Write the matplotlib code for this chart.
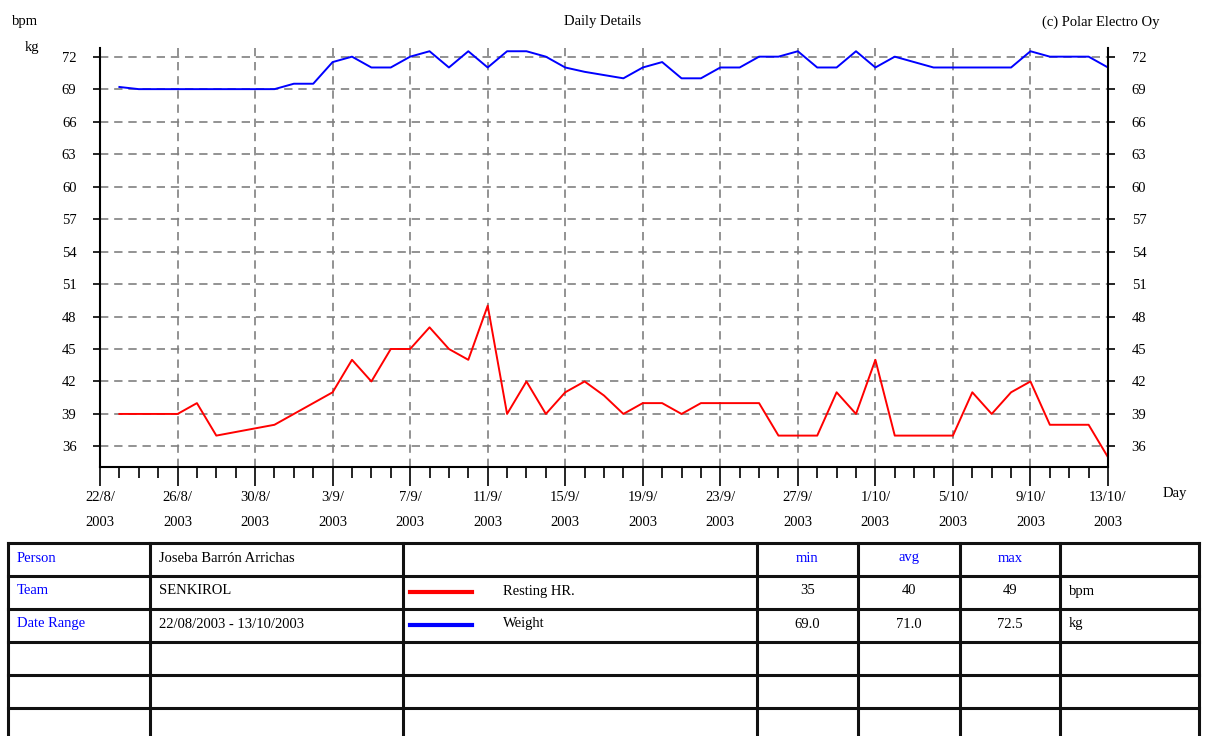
import matplotlib
matplotlib.use('Agg')
import matplotlib.pyplot as plt
import numpy as np
import pandas as pd

# --- Donnees ---
start = '2003-08-22'
end = '2003-10-13'

# jours depuis le 22/8 (les jours absents ne sont pas listes)
hr_day = [1, 2, 3, 4, 5, 6, 9, 12, 13, 14, 15, 16, 17, 18, 19, 20, 21, 22, 23, 24,
          25, 26, 27, 28, 29, 30, 31, 32, 33, 34, 35, 36, 37, 38, 39, 40, 41, 42,
          43, 44, 45, 46, 47, 48, 49, 50, 51, 52]
hr_val = [39, 39, 39, 39, 40, 37, 38, 41, 44, 42, 45, 45, 47, 45, 44, 49, 39, 42, 39, 41,
          42, 40.7, 39, 40, 40, 39, 40, 40, 40, 40, 37, 37, 37, 41, 39, 44, 37, 37,
          37, 37, 41, 39, 41, 42, 38, 38, 38, 35]

wt_day = list(range(1, 53))
wt_val = [69.2, 69, 69, 69, 69, 69, 69, 69, 69, 69.5, 69.5, 71.5, 72, 71, 71, 72, 72.5,
          71, 72.5, 71, 72.5, 72.5, 72, 71, 70.6, 70.3, 70, 71, 71.5, 70, 70, 71, 71,
          72, 72, 72.5, 71, 71, 72.5, 71, 72, 71.5, 71, 71, 71, 71, 71, 72.5, 72, 72,
          72, 71]

y_ticks = [36, 39, 42, 45, 48, 51, 54, 57, 60, 63, 66, 69, 72]

table_rows = [
    ['Person', 'Joseba Barrón Arrichas', '', 'min', 'avg', 'max', ''],
    ['Team', 'SENKIROL', 'Resting HR.', '35', '40', '49', 'bpm'],
    ['Date Range', '22/08/2003 - 13/10/2003', 'Weight', '69.0', '71.0', '72.5', 'kg'],
    ['', '', '', '', '', '', ''],
    ['', '', '', '', '', '', ''],
    ['', '', '', '', '', '', ''],
]

# --- Figure ---
plt.rcParams['font.family'] = ['Liberation Serif', 'DejaVu Serif']
fs = 10.5
W, H = 1205, 736
fig = plt.figure(figsize=(W / 100, H / 100), dpi=100)
ax = fig.add_axes([100 / W, 1 - 467 / H, 1008 / W, 419 / H])

t0 = pd.Timestamp(start)
hr_dates = t0 + pd.to_timedelta(hr_day, unit='D')
wt_dates = t0 + pd.to_timedelta(wt_day, unit='D')

ax.plot(wt_dates, wt_val, color='#0000ff', lw=1.4)
ax.plot(hr_dates, hr_val, color='#ff0000', lw=1.4)

ax.set_xlim(pd.Timestamp(start), pd.Timestamp(end))
ax.set_ylim(34.1, 72.8)

major = pd.date_range(start, end, freq='4D')
minor = pd.date_range(start, end, freq='D')
ax.set_xticks(major)
ax.set_xticks(minor, minor=True)
ax.set_xticklabels([f'{d.day}/{d.month}/\n{d.year}' for d in major], linespacing=2.25)
ax.set_yticks(y_ticks)
ax.set_yticklabels([str(v) for v in y_ticks])

ax.tick_params(axis='x', which='major', length=14, width=1.2, pad=3, labelsize=fs)
ax.tick_params(axis='x', which='minor', length=8, width=1.2)
ax.tick_params(axis='y', which='major', length=5, width=1.2, pad=12, labelsize=fs,
               right=True, labelright=True)

for s in ['left', 'right', 'bottom']:
    ax.spines[s].set_linewidth(1.5)
ax.spines['top'].set_visible(False)

ax.grid(True, which='major', color='#808080', linestyle=(0, (5, 3.5)), lw=1.2)
ax.set_axisbelow(True)

# --- Textes du haut ---
ov = fig.add_axes([0, 0, 1, 1], facecolor='none')
ov.set_xlim(0, W)
ov.set_ylim(H, 0)
ov.axis('off')

ov.text(12, 21, 'bpm', fontsize=fs, va='center')
ov.text(25, 47, 'kg', fontsize=fs, va='center')
ov.text(603, 22, 'Daily Details', fontsize=fs, ha='center', va='center')
ov.text(1160, 22, '(c) Polar Electro Oy', fontsize=fs, ha='right', va='center')
ov.text(1175, 494, 'Day', fontsize=fs, ha='center', va='center')

# --- Tableau ---
col_x = [8, 150, 403, 757, 858, 960, 1060, 1199]
row_y = [543 + 33 * i for i in range(7)]

for x in col_x:
    ov.plot([x, x], [row_y[0], row_y[-1]], color='#111111', lw=2.2, clip_on=False)
for y in row_y:
    ov.plot([col_x[0], col_x[-1]], [y, y], color='#111111', lw=2.2, clip_on=False)

for i, row in enumerate(table_rows):
    yc = row_y[i] + 15
    for j, txt in enumerate(row):
        if not txt:
            continue
        color = 'black'
        if j == 0 or i == 0 and j in (3, 4, 5):
            color = '#0000ff'
        if j in (3, 4, 5):
            ov.text((col_x[j] + col_x[j + 1]) / 2, yc, txt, fontsize=fs,
                    ha='center', va='center', color=color)
        elif j == 2:
            ov.text(503, yc, txt, fontsize=fs, va='center', color=color)
        else:
            ov.text(col_x[j] + 9, yc, txt, fontsize=fs, va='center', color=color)

# lignes de legende dans le tableau
ov.plot([410, 472], [row_y[1] + 16, row_y[1] + 16], color='#ff0000', lw=3)
ov.plot([410, 472], [row_y[2] + 16, row_y[2] + 16], color='#0000ff', lw=3)

fig.savefig('out.png', dpi=100)
